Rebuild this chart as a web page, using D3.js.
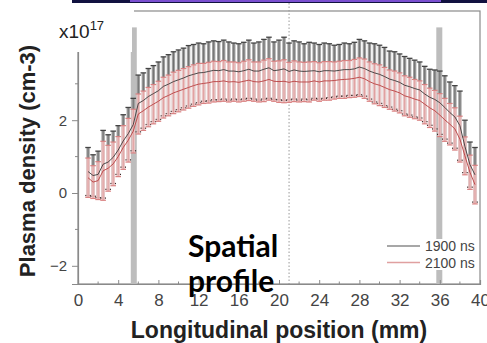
<!DOCTYPE html>
<html>
<head>
<meta charset="utf-8">
<script src="https://cdn.jsdelivr.net/npm/d3@7"></script>
<style>
  html, body { margin: 0; padding: 0; background: #fff; }
  svg { display: block; font-family: "Liberation Sans", Arial, sans-serif; }
</style>
</head>
<body>
<div id="chart"></div>
<script>
// sample positions along the channel (mm)
const positionMm = d3.range(1, 40, 0.5);

// 1900 ns : mean and error bar half-height (x10^17 cm-3)
const mean1900 = [0.59,0.48,0.51,0.79,0.85,0.98,1.18,1.43,1.63,1.88,
  2.46,2.54,2.65,2.73,2.81,2.93,2.99,3.06,3.11,3.16,
  3.22,3.26,3.30,3.31,3.34,3.37,3.36,3.39,3.35,3.35,
  3.33,3.36,3.40,3.35,3.35,3.40,3.44,3.36,3.38,3.41,
  3.34,3.38,3.35,3.34,3.35,3.36,3.33,3.36,3.36,3.35,
  3.37,3.39,3.39,3.41,3.46,3.42,3.35,3.30,3.26,3.20,
  3.13,3.09,3.04,2.96,2.92,2.87,2.83,2.72,2.63,2.57,
  2.48,2.35,2.21,2.09,1.85,1.28,0.78,0.50];
const err1900 = [0.66,0.57,0.64,0.93,0.75,0.72,0.67,0.72,0.72,0.72,
  0.78,0.76,0.77,0.77,0.79,0.81,0.81,0.82,0.82,0.82,
  0.83,0.82,0.82,0.79,0.81,0.81,0.80,0.81,0.80,0.77,
  0.77,0.78,0.80,0.77,0.80,0.82,0.84,0.79,0.82,0.87,
  0.78,0.80,0.80,0.76,0.79,0.76,0.75,0.76,0.74,0.71,
  0.71,0.73,0.71,0.73,0.76,0.76,0.77,0.80,0.80,0.80,
  0.77,0.79,0.78,0.79,0.78,0.78,0.77,0.76,0.77,0.81,
  0.87,0.87,0.84,0.86,0.95,0.72,0.62,0.75];

// 2100 ns
const mean2100 = [0.42,0.30,0.34,0.61,0.68,0.80,1.00,1.25,1.45,1.70,
  2.17,2.26,2.36,2.44,2.52,2.62,2.68,2.75,2.80,2.85,
  2.90,2.95,2.99,3.01,3.03,3.06,3.06,3.08,3.05,3.06,
  3.04,3.07,3.10,3.06,3.05,3.08,3.12,3.07,3.06,3.07,
  3.04,3.07,3.05,3.05,3.05,3.08,3.05,3.08,3.08,3.09,
  3.11,3.12,3.13,3.15,3.18,3.14,3.06,3.00,2.96,2.90,
  2.84,2.80,2.75,2.67,2.63,2.58,2.54,2.44,2.34,2.26,
  2.14,2.01,1.89,1.76,1.48,1.02,0.57,0.23];
const err2100 = [0.54,0.45,0.52,0.81,0.63,0.60,0.55,0.60,0.60,0.60,
  0.55,0.54,0.54,0.54,0.55,0.56,0.56,0.57,0.57,0.57,
  0.57,0.57,0.57,0.55,0.56,0.56,0.55,0.56,0.55,0.54,
  0.54,0.55,0.56,0.54,0.55,0.57,0.57,0.55,0.57,0.59,
  0.55,0.56,0.55,0.54,0.55,0.53,0.53,0.53,0.53,0.51,
  0.51,0.52,0.51,0.52,0.53,0.54,0.54,0.55,0.56,0.55,
  0.54,0.55,0.55,0.55,0.55,0.54,0.54,0.54,0.54,0.56,
  0.59,0.59,0.57,0.58,0.63,0.52,0.47,0.53];

// shaded markers and the dotted centre line (mm)
const markerMm = [5.55, 35.95];
const centreMm = 21;

const xTicks = [0, 4, 8, 12, 16, 20, 24, 28, 32, 36, 40];
const xMinor = [2, 6, 10, 14, 18, 22, 26, 30, 34, 38];
const yTicks = [-2, 0, 2];
const yMinor = [-1, 1, 3];
const seriesNames = ['1900 ns', '2100 ns'];

const W = 487, H = 343;
const svg = d3.select('#chart').append('svg').attr('width', W).attr('height', H);

const x = d3.scaleLinear().domain([0, 40]).range([78, 480]);
const y = d3.scaleLinear().domain([-2.5, 5]).range([284, 11]);
const axisColor = '#8a8a8a';

// slide header strip
svg.append('rect').attr('x', 72).attr('y', 0).attr('width', W - 72).attr('height', 3).attr('fill', '#111240');
svg.append('rect').attr('x', 130).attr('y', 0).attr('width', 311).attr('height', 2).attr('fill', '#7a4fd0');

// frame
svg.append('rect')
  .attr('x', x(0)).attr('y', y(5))
  .attr('width', x(40) - x(0)).attr('height', y(-2.5) - y(5))
  .attr('fill', 'none').attr('stroke', axisColor).attr('stroke-width', 1.2);

// dotted line
svg.append('line')
  .attr('x1', x(centreMm)).attr('x2', x(centreMm))
  .attr('y1', 3).attr('y2', y(-2.5))
  .attr('stroke', '#999').attr('stroke-width', 1).attr('stroke-dasharray', '1.5,2');

// shaded marker bars
svg.append('g').selectAll('rect')
  .data(markerMm).enter().append('rect')
  .attr('x', d => x(d) - 3)
  .attr('y', y(4.55))
  .attr('width', 6)
  .attr('height', y(-2.5) - y(4.55))
  .attr('fill', '#bdbdbd');

const rows = positionMm.map((p, i) => ({
  p: p, g: mean1900[i], ge: err1900[i], r: mean2100[i], re: err2100[i]
}));
const cap = 2.8;

// 1900 ns bars (underneath)
const gBars = svg.append('g');
gBars.selectAll('line')
  .data(rows).enter().append('line')
  .attr('x1', d => x(d.p)).attr('x2', d => x(d.p))
  .attr('y1', d => y(d.g + d.ge)).attr('y2', d => y(d.g - d.ge))
  .attr('stroke', '#a0a0a0').attr('stroke-width', 3.4);
gBars.selectAll('path')
  .data(rows).enter().append('path')
  .attr('d', d => `M${x(d.p)},${y(d.g + d.ge)}V${y(d.g - d.ge)}`)
  .attr('stroke', '#5a5a5a').attr('stroke-width', 0.7).attr('fill', 'none');

// 2100 ns bars
const rBars = svg.append('g');
rBars.selectAll('line')
  .data(rows).enter().append('line')
  .attr('x1', d => x(d.p)).attr('x2', d => x(d.p))
  .attr('y1', d => y(d.r + d.re)).attr('y2', d => y(d.r - d.re))
  .attr('stroke', '#f2caca').attr('stroke-width', 3.6).attr('stroke-opacity', 0.9);
rBars.selectAll('path')
  .data(rows).enter().append('path')
  .attr('d', d => `M${x(d.p)},${y(d.r + d.re)}V${y(d.r - d.re)}`)
  .attr('stroke', '#df9090').attr('stroke-width', 0.7).attr('fill', 'none');
[0, 1].forEach(j => {
  rBars.append('g').selectAll('line')
    .data(rows).enter().append('line')
    .attr('x1', d => x(d.p) - cap).attr('x2', d => x(d.p) + cap)
    .attr('y1', d => y(j ? d.r - d.re : d.r + d.re))
    .attr('y2', d => y(j ? d.r - d.re : d.r + d.re))
    .attr('stroke', '#d98282').attr('stroke-width', 1.2);
});

// 1900 ns caps on top
[0, 1].forEach(j => {
  gBars.append('g').selectAll('line')
    .data(rows).enter().append('line')
    .attr('x1', d => x(d.p) - cap).attr('x2', d => x(d.p) + cap)
    .attr('y1', d => y(j ? d.g - d.ge : d.g + d.ge))
    .attr('y2', d => y(j ? d.g - d.ge : d.g + d.ge))
    .attr('stroke', j ? '#3a2626' : '#444').attr('stroke-width', 1.3);
});

// mean lines
const line1900 = d3.line().x(d => x(d.p)).y(d => y(d.g));
const line2100 = d3.line().x(d => x(d.p)).y(d => y(d.r));
svg.append('path').datum(rows).attr('d', line2100)
  .attr('fill', 'none').attr('stroke', '#b84040').attr('stroke-width', 0.9);
svg.append('path').datum(rows).attr('d', line1900)
  .attr('fill', 'none').attr('stroke', '#3a3a3a').attr('stroke-width', 0.9);

// axes
const xAxis = svg.append('g')
  .attr('transform', `translate(0,${y(-2.5)})`)
  .call(d3.axisBottom(x).tickValues(xTicks).tickSize(-4).tickPadding(10));
xAxis.append('g').selectAll('line').data(xMinor).enter().append('line')
  .attr('x1', d => x(d)).attr('x2', d => x(d)).attr('y1', 0).attr('y2', -2.5)
  .attr('stroke', axisColor);
xAxis.selectAll('text').attr('font-size', 17).attr('fill', '#444').attr('font-family', '"Liberation Sans", Arial, sans-serif');

const yAxis = svg.append('g')
  .attr('transform', `translate(${x(0)},0)`)
  .call(d3.axisLeft(y).tickValues(yTicks).tickSize(6).tickPadding(5));
yAxis.append('g').selectAll('line').data(yMinor).enter().append('line')
  .attr('x1', 0).attr('x2', -3).attr('y1', d => y(d)).attr('y2', d => y(d))
  .attr('stroke', axisColor);
yAxis.selectAll('text').attr('font-size', 15).attr('fill', '#444').attr('font-family', '"Liberation Sans", Arial, sans-serif');
svg.selectAll('.domain').attr('stroke', axisColor).attr('stroke-width', 1.2);
svg.selectAll('.tick line').attr('stroke', axisColor);

// white patch over the top-left corner (slide overlay)
svg.append('rect').attr('x', 40).attr('y', 4).attr('width', 92).attr('height', 48).attr('fill', '#fff');
svg.append('rect').attr('x', 78).attr('y', 4).attr('width', 56).attr('height', 8).attr('fill', '#fff');

// exponent
const expo = svg.append('text').attr('x', 59).attr('y', 38).attr('font-size', 19).attr('fill', '#222');
expo.append('tspan').text('x10');
expo.append('tspan').text('17').attr('font-size', 13).attr('dy', -8);

// axis titles
svg.append('text')
  .attr('transform', 'translate(35,161) rotate(-90)')
  .attr('text-anchor', 'middle')
  .attr('font-size', 22).attr('font-weight', 'bold').attr('fill', '#222')
  .text('Plasma density (cm-3)');
svg.append('text')
  .attr('x', 279).attr('y', 338)
  .attr('text-anchor', 'middle')
  .attr('font-size', 23).attr('font-weight', 'bold').attr('fill', '#222')
  .text('Longitudinal position (mm)');

// legend
const legend = svg.append('g');
legend.append('rect').attr('x', 382).attr('y', 239).attr('width', 96).attr('height', 31).attr('fill', '#fff');
const legColors = ['#8a8a8a', '#e0a0a0'];
seriesNames.forEach((name, i) => {
  const ly = 246 + i * 16.5;
  legend.append('line').attr('x1', 387).attr('x2', 420).attr('y1', ly).attr('y2', ly)
    .attr('stroke', legColors[i]).attr('stroke-width', 1.5);
  legend.append('text').attr('x', 425).attr('y', ly + 5)
    .attr('font-size', 14).attr('fill', '#444').text(name);
});

// annotation
const note = svg.append('text')
  .attr('x', 188).attr('font-family', 'Lato, "Open Sans", sans-serif')
  .attr('font-size', 30).attr('font-weight', 'bold').attr('fill', '#000');
note.append('tspan').attr('x', 188).attr('y', 257).text('Spatial');
note.append('tspan').attr('x', 188).attr('y', 292).text('profile');
</script>
</body>
</html>
